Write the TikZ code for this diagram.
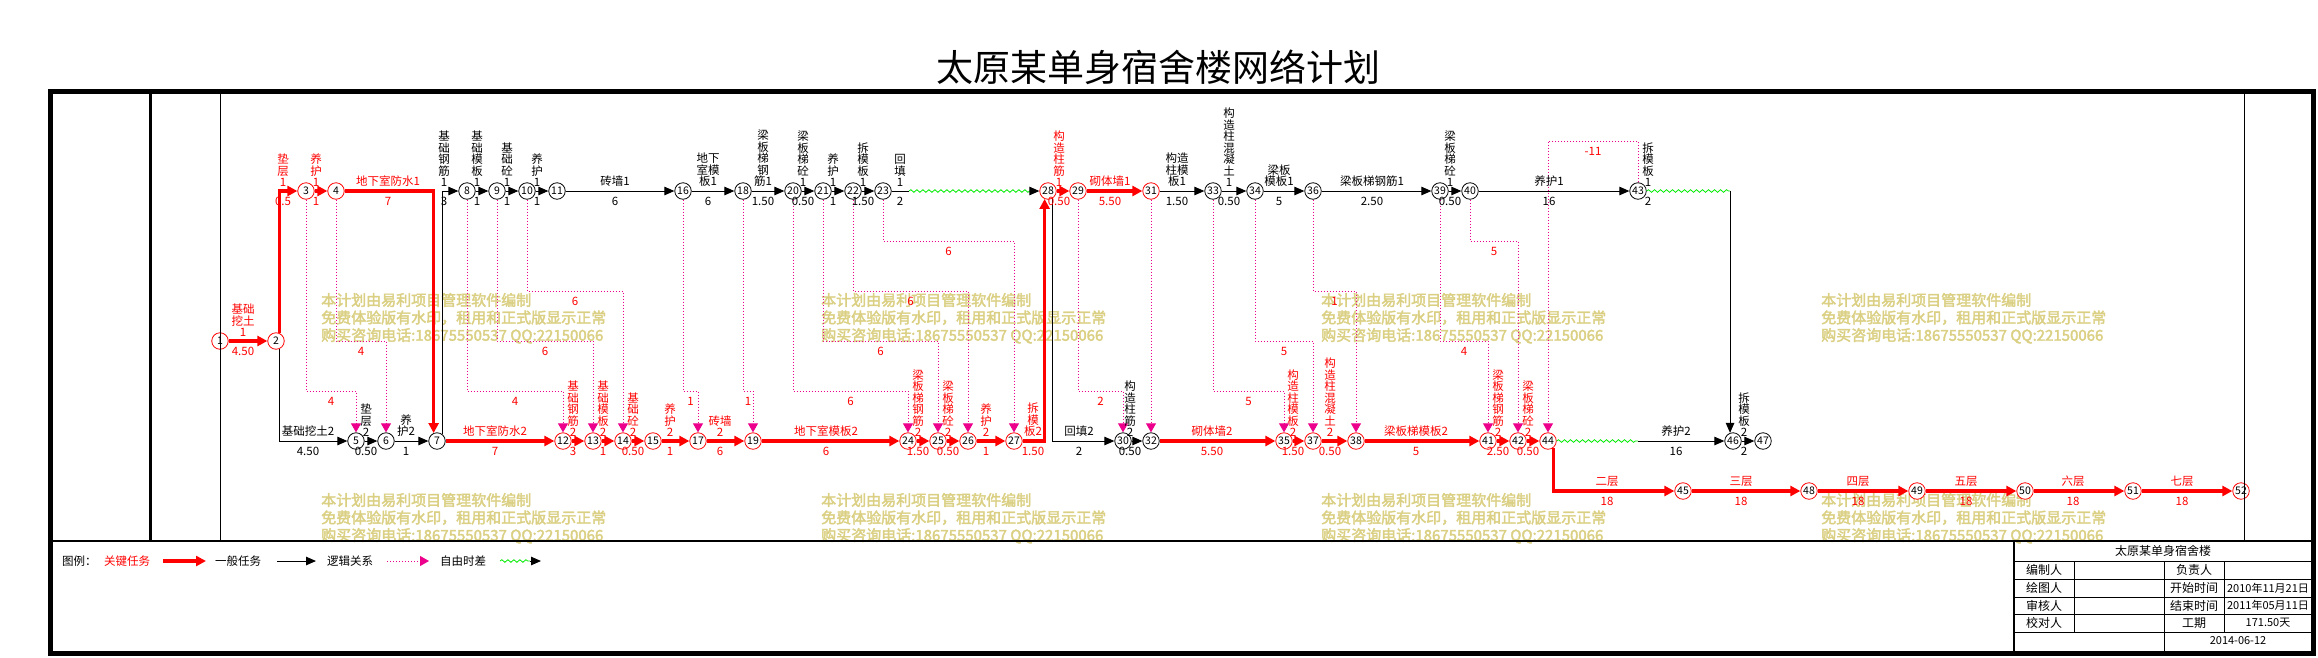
\documentclass[tikz,border=0pt]{standalone}
\usepackage{fontspec}
\setmainfont{Noto Sans CJK SC}
\newfontfamily\wmfamily{Noto Sans CJK SC}[FakeBold=2.5]
\usetikzlibrary{arrows.meta,decorations.pathmorphing,calc}
\definecolor{wmcol}{RGB}{218,207,130}
\definecolor{wgreen}{RGB}{0,235,0}
\newcommand\labfont{\fontsize{11.5}{11.5}\selectfont}
\newcommand\numfont{\fontsize{10.5}{11}\selectfont}
\newcommand\wmfont{\wmfamily\fontsize{15}{17.5}\selectfont}
\newcommand\tbfont{\fontsize{12}{14}\selectfont}
\newcommand\tbsfont{\fontsize{11}{13}\selectfont}
\newcommand\ttlfont{\fontsize{37}{40}\selectfont}
\newcounter{lbl}
\newcommand\tk[5]{\stepcounter{lbl}%
  \node[labA,text=#5] (ta\thelbl) at (#1,#2-4) {#3};
  \node[labB,text=#5] (tb\thelbl) at (#1,#2+6) {#4};}
\newcommand\lgc[4]{\draw[logic] (#1.south) -- (#1 |- #3) -- node[dl]{#4} (#2 |- #3) -- (#2.north);}
\newcommand\wmark[3]{%
  \node[wm] (#1a) at (#2,#3+5.7) {本计划由易利项目管理软件编制};
  \node[wm] (#1b) at (#2,#3+23.2) {免费体验版有水印，租用和正式版显示正常};
  \node[wm] (#1c) at (#2,#3+40.7) {购买咨询电话:18675550537 QQ:22150066};}
\tikzset{
  ev/.style={circle, draw=black, fill=white, line width=0.8pt, minimum size=16.5pt, inner sep=0pt, font=\numfont},
  evc/.style={ev, draw=red},
  norm/.style={draw=black, line width=1pt, -{Triangle[length=10pt,width=8.5pt]}},
  plainln/.style={draw=black, line width=1pt},
  crit/.style={draw=red, line width=3.6pt, -{Triangle[length=10pt,width=10pt]}},
  logic/.style={draw=magenta, line width=1pt, dash pattern=on 1pt off 2pt, -{Triangle[length=9pt,width=10pt]}},
  wave/.style={draw=wgreen, line width=0.8pt, decorate, decoration={snake, amplitude=1.3pt, segment length=6pt}},
  labA/.style={anchor=south, align=center, inner sep=0pt, font=\labfont},
  labB/.style={anchor=north, align=center, inner sep=0pt, font=\labfont},
  dl/.style={text=red, font=\labfont, yshift=-10pt, inner sep=0pt},
  wm/.style={anchor=base west, inner sep=0pt, font=\wmfont, text=wmcol},
  lgt/.style={anchor=west, inner sep=0pt, font=\labfont},
  tb/.style={inner sep=0pt, font=\tbfont},
  tbs/.style={inner sep=0pt, font=\tbsfont},
}
\begin{document}
\begin{tikzpicture}[x=1pt,y=-1pt]
\useasboundingbox (0,0) rectangle (2318,657);
% title
\node[font=\ttlfont, inner sep=0pt] (title) at (1158,67) {太原某单身宿舍楼网络计划};
% watermarks
\wmark{wA}{321}{300}
\wmark{wB}{821}{300}
\wmark{wC}{1321}{300}
\wmark{wD}{1821}{300}
\wmark{wE}{321}{500}
\wmark{wF}{821}{500}
\wmark{wG}{1321}{500}
\wmark{wH}{1821}{500}
% level coordinates
\coordinate (yA) at (0,141);
\coordinate (yB) at (0,241);
\coordinate (yC) at (0,291);
\coordinate (yD) at (0,341);
\coordinate (yE) at (0,391);
% events
\node[evc] (n1) at (220,341) {1};
\node[evc] (n2) at (276,341) {2};
\node[evc] (n3) at (306,191) {3};
\node[evc] (n4) at (336,191) {4};
\node[ev] (n5) at (356,441) {5};
\node[ev] (n6) at (386,441) {6};
\node[ev] (n7) at (437,441) {7};
\node[ev] (n8) at (467,191) {8};
\node[ev] (n9) at (497,191) {9};
\node[ev] (n10) at (527,191) {10};
\node[ev] (n11) at (557,191) {11};
\node[evc] (n12) at (563,441) {12};
\node[evc] (n13) at (593,441) {13};
\node[evc] (n14) at (623,441) {14};
\node[evc] (n15) at (653,441) {15};
\node[ev] (n16) at (683,191) {16};
\node[evc] (n17) at (698,441) {17};
\node[ev] (n18) at (743,191) {18};
\node[evc] (n19) at (753,441) {19};
\node[ev] (n20) at (793,191) {20};
\node[ev] (n21) at (823,191) {21};
\node[ev] (n22) at (853,191) {22};
\node[ev] (n23) at (883,191) {23};
\node[evc] (n24) at (908,441) {24};
\node[evc] (n25) at (938,441) {25};
\node[evc] (n26) at (968,441) {26};
\node[evc] (n27) at (1014,441) {27};
\node[evc] (n28) at (1048,191) {28};
\node[evc] (n29) at (1078,191) {29};
\node[ev] (n30) at (1123,441) {30};
\node[evc] (n31) at (1151,191) {31};
\node[ev] (n32) at (1151,441) {32};
\node[ev] (n33) at (1213,191) {33};
\node[ev] (n34) at (1255,191) {34};
\node[evc] (n35) at (1284,441) {35};
\node[ev] (n36) at (1313,191) {36};
\node[evc] (n37) at (1313,441) {37};
\node[evc] (n38) at (1356,441) {38};
\node[ev] (n39) at (1440,191) {39};
\node[ev] (n40) at (1470,191) {40};
\node[evc] (n41) at (1488,441) {41};
\node[evc] (n42) at (1518,441) {42};
\node[ev] (n43) at (1638,191) {43};
\node[evc] (n44) at (1548,441) {44};
\node[evc] (n45) at (1683,491) {45};
\node[ev] (n46) at (1733,441) {46};
\node[ev] (n47) at (1763,441) {47};
\node[evc] (n48) at (1809,491) {48};
\node[evc] (n49) at (1917,491) {49};
\node[evc] (n50) at (2025,491) {50};
\node[evc] (n51) at (2133,491) {51};
\node[evc] (n52) at (2241,491) {52};
% critical tasks
\draw[crit] (n1) -- (n2);
\draw[crit] (n2.65) |- (n3);
\draw[crit] (n3) -- (n4);
\draw[crit] (n4) -| (n7.113);
\draw[crit] (n7) -- (n12);
\draw[crit] (n12) -- (n13);
\draw[crit] (n13) -- (n14);
\draw[crit] (n14) -- (n15);
\draw[crit] (n15) -- (n17);
\draw[crit] (n17) -- (n19);
\draw[crit] (n19) -- (n24);
\draw[crit] (n24) -- (n25);
\draw[crit] (n25) -- (n26);
\draw[crit] (n26) -- (n27);
\draw[crit] (n27) -| (n28.-113);
\draw[crit] (n28) -- (n29);
\draw[crit] (n29) -- (n31);
\draw[crit] (n32) -- (n35);
\draw[crit] (n35) -- (n37);
\draw[crit] (n37) -- (n38);
\draw[crit] (n38) -- (n41);
\draw[crit] (n41) -- (n42);
\draw[crit] (n42) -- (n44);
\draw[crit] (n44.-52) |- (n45);
\draw[crit] (n45) -- (n48);
\draw[crit] (n48) -- (n49);
\draw[crit] (n49) -- (n50);
\draw[crit] (n50) -- (n51);
\draw[crit] (n51) -- (n52);
% normal tasks
\draw[norm] (n2.-65) |- (n5);
\draw[norm] (n5) -- (n6);
\draw[norm] (n6) -- (n7);
\draw[norm] (n7.54) |- (n8);
\draw[norm] (n8) -- (n9);
\draw[norm] (n9) -- (n10);
\draw[norm] (n10) -- (n11);
\draw[norm] (n11) -- (n16);
\draw[norm] (n16) -- (n18);
\draw[norm] (n18) -- (n20);
\draw[norm] (n20) -- (n21);
\draw[norm] (n21) -- (n22);
\draw[norm] (n22) -- (n23);
\coordinate (c23a) at (909,191);
\coordinate (c23b) at (1032,191);
\draw[plainln] (n23) -- (c23a);
\draw[wave] (c23a) -- (c23b);
\draw[norm] (c23b) -- (n28);
\draw[norm] (n28.-57) |- (n30);
\draw[norm] (n30) -- (n32);
\draw[norm] (n31) -- (n33);
\draw[norm] (n33) -- (n34);
\draw[norm] (n34) -- (n36);
\draw[norm] (n36) -- (n39);
\draw[norm] (n39) -- (n40);
\draw[norm] (n40) -- (n43);
\coordinate (w43) at (n46.110 |- n43);
\draw[wave] (n43) -- (w43);
\draw[norm] (w43) -- (n46.110);
\coordinate (w44) at (1638,441);
\draw[wave] (n44) -- (w44);
\draw[norm] (w44) -- (n46);
\draw[norm] (n46) -- (n47);
% logic relations
\lgc{n3}{n5}{yE}{4}
\lgc{n4}{n6}{yD}{4}
\lgc{n8}{n12}{yE}{4}
\lgc{n9}{n13}{yD}{6}
\lgc{n10}{n14}{yC}{6}
\lgc{n16}{n17}{yE}{1}
\lgc{n18}{n19}{yE}{1}
\lgc{n20}{n24}{yE}{6}
\lgc{n21}{n25}{yD}{6}
\lgc{n22}{n26}{yC}{6}
\lgc{n23}{n27}{yB}{6}
\lgc{n29}{n30}{yE}{2}
\draw[logic] (n31) -- (n32);
\lgc{n33}{n35}{yE}{5}
\lgc{n34}{n37}{yD}{5}
\lgc{n36}{n38}{yC}{1}
\lgc{n39}{n41}{yD}{4}
\lgc{n40}{n42}{yB}{5}
\draw[logic] (n43.north) -- (n43 |- yA) -- node[dl]{-11} (n44 |- yA) -- (n44.north);
% task labels, top row
\tk{243}{341}{基础\\挖土\\1}{4.50}{red}
\tk{283}{191}{垫\\层\\1}{0.5}{red}
\tk{316}{191}{养\\护\\1}{1}{red}
\tk{388}{191}{地下室防水1}{7}{red}
\tk{444}{191}{基\\础\\钢\\筋\\1}{3}{black}
\tk{477}{191}{基\\础\\模\\板\\1}{1}{black}
\tk{507}{191}{基\\础\\砼\\1}{1}{black}
\tk{537}{191}{养\\护\\1}{1}{black}
\tk{615}{191}{砖墙1}{6}{black}
\tk{708}{191}{地下\\室模\\板1}{6}{black}
\tk{763}{191}{梁\\板\\梯\\钢\\筋1}{1.50}{black}
\tk{803}{191}{梁\\板\\梯\\砼\\1}{0.50}{black}
\tk{833}{191}{养\\护\\1}{1}{black}
\tk{863}{191}{拆\\模\\板\\1}{1.50}{black}
\tk{900}{191}{回\\填\\1}{2}{black}
\tk{1059}{191}{构\\造\\柱\\筋\\1}{0.50}{red}
\tk{1110}{191}{砌体墙1}{5.50}{red}
\tk{1177}{191}{构造\\柱模\\板1}{1.50}{black}
\tk{1229}{191}{构\\造\\柱\\混\\凝\\土\\1}{0.50}{black}
\tk{1279}{191}{梁板\\模板1}{5}{black}
\tk{1372}{191}{梁板梯钢筋1}{2.50}{black}
\tk{1450}{191}{梁\\板\\梯\\砼\\1}{0.50}{black}
\tk{1549}{191}{养护1}{16}{black}
\tk{1648}{191}{拆\\模\\板\\1}{2}{black}
% bottom row
\tk{308}{441}{基础挖土2}{4.50}{black}
\tk{366}{441}{垫\\层\\2}{0.50}{black}
\tk{406}{441}{养\\护2}{1}{black}
\tk{495}{441}{地下室防水2}{7}{red}
\tk{573}{441}{基\\础\\钢\\筋\\2}{3}{red}
\tk{603}{441}{基\\础\\模\\板\\2}{1}{red}
\tk{633}{441}{基\\础\\砼\\2}{0.50}{red}
\tk{670}{441}{养\\护\\2}{1}{red}
\tk{720}{441}{砖墙\\2}{6}{red}
\tk{826}{441}{地下室模板2}{6}{red}
\tk{918}{441}{梁\\板\\梯\\钢\\筋\\2}{1.50}{red}
\tk{948}{441}{梁\\板\\梯\\砼\\2}{0.50}{red}
\tk{986}{441}{养\\护\\2}{1}{red}
\tk{1033}{441}{拆\\模\\板2}{1.50}{red}
\tk{1079}{441}{回填2}{2}{black}
\tk{1130}{441}{构\\造\\柱\\筋\\2}{0.50}{black}
\tk{1212}{441}{砌体墙2}{5.50}{red}
\tk{1293}{441}{构\\造\\柱\\模\\板\\2}{1.50}{red}
\tk{1330}{441}{构\\造\\柱\\混\\凝\\土\\2}{0.50}{red}
\tk{1416}{441}{梁板梯模板2}{5}{red}
\tk{1498}{441}{梁\\板\\梯\\钢\\筋\\2}{2.50}{red}
\tk{1528}{441}{梁\\板\\梯\\砼\\2}{0.50}{red}
\tk{1676}{441}{养护2}{16}{black}
\tk{1744}{441}{拆\\模\\板\\2}{2}{black}
% third row
\tk{1607}{491}{二层}{18}{red}
\tk{1741}{491}{三层}{18}{red}
\tk{1858}{491}{四层}{18}{red}
\tk{1966}{491}{五层}{18}{red}
\tk{2073}{491}{六层}{18}{red}
\tk{2182}{491}{七层}{18}{red}
% legend
\node[lgt] (lgA) at (62,561) {图例：};
\node[lgt,text=red] (lgB) at (104,561) {关键任务};
\coordinate (la1) at (163,561); \coordinate (la2) at (206,561);
\draw[crit] (la1) -- (la2);
\node[lgt] (lgC) at (215,561) {一般任务};
\coordinate (lb1) at (277,561); \coordinate (lb2) at (316,561);
\draw[norm] (lb1) -- (lb2);
\node[lgt] (lgD) at (327,561) {逻辑关系};
\coordinate (lc1) at (387,561); \coordinate (lc2) at (429,561);
\draw[logic] (lc1) -- (lc2);
\node[lgt] (lgE) at (440,561) {自由时差};
\coordinate (ld1) at (500,561); \coordinate (ld2) at (530,561); \coordinate (ld3) at (541,561);
\draw[wave] (ld1) -- (ld2);
\draw[norm] (ld2) -- (ld3);
% title block
\node[tb] (tb0) at (2163,551) {太原某单身宿舍楼};
\node[tb] (tbA) at (2044,570) {编制人};
\node[tb] (tbB) at (2194,570) {负责人};
\node[tb] (tbC) at (2044,588) {绘图人};
\node[tb] (tbD) at (2194,588) {开始时间};
\node[tbs] (tbE) at (2268,588) {2010年11月21日};
\node[tb] (tbF) at (2044,605.5) {审核人};
\node[tb] (tbG) at (2194,605.5) {结束时间};
\node[tbs] (tbH) at (2268,605.5) {2011年05月11日};
\node[tb] (tbI) at (2044,623) {校对人};
\node[tb] (tbJ) at (2194,623) {工期};
\node[tbs] (tbK) at (2268,623) {171.50天};
\node[tbs] (tbL) at (2238,641) {2014-06-12};
\draw[line width=1pt] (2014,561) -- (2313,561) (2014,579) -- (2313,579) (2014,597) -- (2313,597)
  (2014,614) -- (2313,614) (2014,632) -- (2313,632);
\draw[line width=1pt] (2074,561) -- (2074,632) (2164,561) -- (2164,653) (2224,561) -- (2224,632);
\draw[line width=2.5pt] (2014,541) -- (2014,653);
% frame
\draw[line width=2.5pt] (50,541) -- (2314,541);
\draw[line width=3pt] (150,91.5) -- (150,541);
\draw[line width=1pt] (220,91.5) -- (220,541);
\draw[line width=1pt] (2244,91.5) -- (2244,541);
\draw[line width=4.5pt] (50.5,91.5) rectangle (2313.5,653.5);
\end{tikzpicture}
\end{document}
